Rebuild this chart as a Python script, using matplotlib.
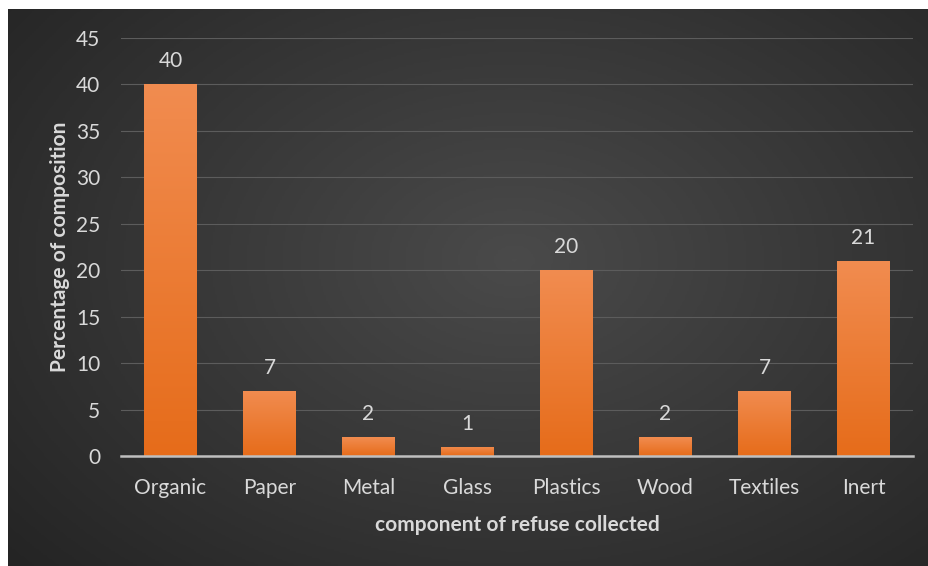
import numpy as np
import matplotlib
matplotlib.use("Agg")
import matplotlib.pyplot as plt
from matplotlib.colors import LinearSegmentedColormap

categories = ["Organic", "Paper", "Metal", "Glass", "Plastics", "Wood", "Textiles", "Inert"]
values = [40, 7, 2, 1, 20, 2, 7, 21]

plt.rcParams['font.family'] = ['Lato', 'DejaVu Sans']

W, H = 929, 566
fig = plt.figure(figsize=(W / 100, H / 100), dpi=100)
fig.patch.set_facecolor("white")

# dark panel with a soft radial gradient
bg = fig.add_axes([8 / W, 0, 1 - 8 / W, 1 - 9 / H])
bg.set_axis_off()
yy, xx = np.mgrid[0:1:300j, 0:1:500j]
r = np.sqrt(((xx - 0.55) / 0.75) ** 2 + ((yy - 0.55) / 0.85) ** 2)
shade = np.clip(1 - r, 0, 1)
bg_cmap = LinearSegmentedColormap.from_list("bg", ["#242424", "#4a4a4a"])
bg.imshow(shade, cmap=bg_cmap, aspect="auto", extent=[0, 1, 0, 1], origin="lower")
bg.set_xlim(0, 1)
bg.set_ylim(0, 1)

ax = fig.add_axes([121 / W, 1 - 456 / H, (913 - 121) / W, (456 - 38) / H])
ax.patch.set_alpha(0)

x = np.arange(len(categories))
bars = ax.bar(x, values, width=0.53, color="none", zorder=3)

bar_cmap = LinearSegmentedColormap.from_list("bar", ["#e66c1a", "#f18c50"])
grad = np.linspace(0, 1, 256).reshape(-1, 1)
for b in bars:
    x0, y0 = b.get_x(), b.get_y()
    w, h = b.get_width(), b.get_height()
    im = ax.imshow(grad, cmap=bar_cmap, aspect="auto", origin="lower",
                   extent=[x0, x0 + w, y0, y0 + h], zorder=3)
    im.set_clip_path(b)

fs = 15
for xi, v in zip(x, values):
    ax.text(xi, v + 1.4, str(v), ha="center", va="bottom", color="#d9d9d9", fontsize=fs)

ax.set_xlim(-0.5, len(categories) - 0.5)
ax.set_ylim(0, 45)
ax.set_yticks(range(0, 46, 5))
ax.set_xticks(x)
ax.set_xticklabels(categories)

ax.grid(axis="y", color="#5c5c5c", linewidth=0.8, zorder=0)
ax.set_axisbelow(True)
for s in ["top", "right", "left"]:
    ax.spines[s].set_visible(False)
ax.spines["bottom"].set_color("#bfbfbf")
ax.spines["bottom"].set_linewidth(1.8)
ax.spines["bottom"].set_zorder(4)

ax.tick_params(axis="both", length=0, colors="#d9d9d9", labelsize=fs)
ax.tick_params(axis="x", pad=16)
ax.tick_params(axis="y", pad=15)

ax.set_xlabel("component of refuse collected", color="#d9d9d9", fontsize=fs,
              fontweight="bold", labelpad=12)
ax.set_ylabel("Percentage of composition", color="#d9d9d9", fontsize=fs,
              fontweight="bold", labelpad=4)

fig.savefig("out.png", dpi=100, facecolor=fig.get_facecolor())
